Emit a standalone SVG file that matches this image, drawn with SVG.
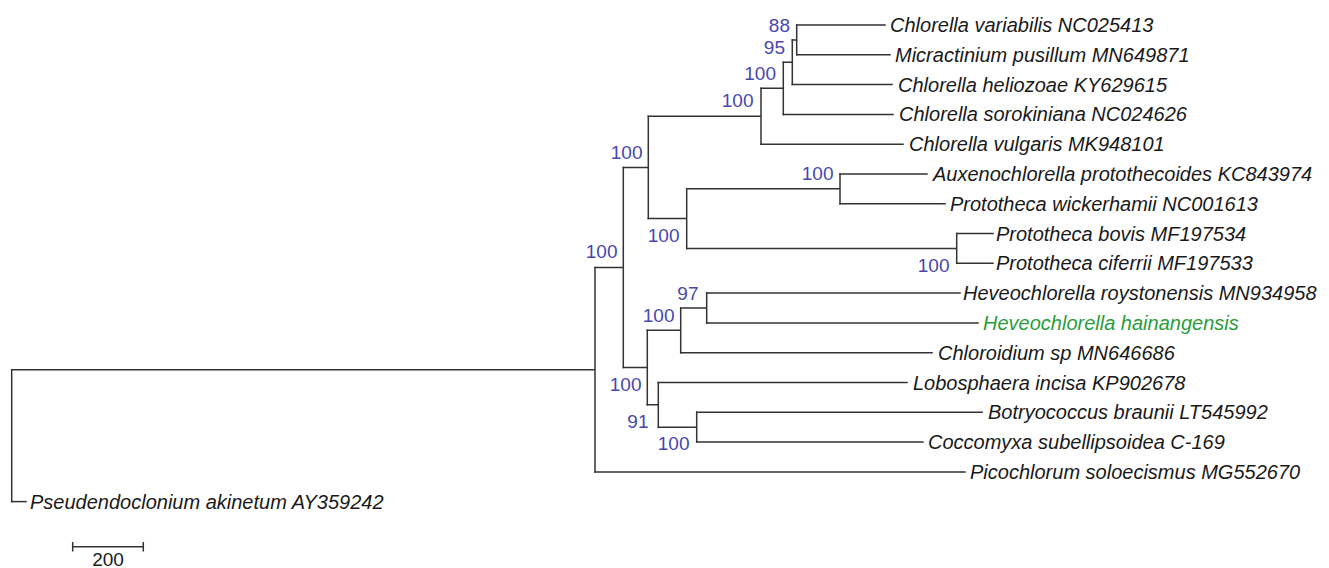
<svg xmlns="http://www.w3.org/2000/svg" width="1329" height="568" viewBox="0 0 1329 568">
<style>
.br{fill:none;stroke:#333;stroke-width:1.5;stroke-linecap:square}
.tx{font-family:"Liberation Sans",Arial,sans-serif;font-size:20px;font-style:italic;fill:#1a1a1a}
.hl{fill:#2a9e3a}
.bs{font-family:"Liberation Sans",Arial,sans-serif;font-size:19px;fill:#4848ae;text-anchor:end}
.sc{font-family:"Liberation Sans",Arial,sans-serif;font-size:19px;fill:#1a1a1a;text-anchor:middle}
</style>
<rect width="1329" height="568" fill="#fff"/>
<g id="connectors" class="br">
<path d="M796.7 25H885M796.7 54.8H890"/>
<path d="M792.3 84.6H892"/>
<path d="M783.3 114.4H893"/>
<path d="M761 144.2H903"/>
<path d="M840 174H927M840 203.7H945"/>
<path d="M956.7 233.5H993M956.7 263.3H993"/>
<path d="M706.7 293.1H960M706.7 322.9H978"/>
<path d="M680.7 352.7H932"/>
<path d="M658.3 382.5H907"/>
<path d="M696.7 412.3H982M696.7 442.1H923"/>
<path d="M595 471.9H965"/>
<path d="M11.7 501.6H26"/>
<path d="M796.7 25V54.8M792.3 39.9H796.7"/>
<path d="M792.3 39.9V84.6M783.3 62.25H792.3"/>
<path d="M783.3 62.25V114.4M761 88.3H783.3"/>
<path d="M761 88.3V144.2M648.3 116.25H761"/>
<path d="M840 174V203.7M686.7 188.85H840"/>
<path d="M956.7 233.5V263.3M686.7 248.4H956.7"/>
<path d="M686.7 188.85V248.4M648.3 218.6H686.7"/>
<path d="M648.3 116.25V218.6M623.3 167.4H648.3"/>
<path d="M706.7 293.1V322.9M680.7 308H706.7"/>
<path d="M680.7 308V352.7M647.3 330.35H680.7"/>
<path d="M696.7 412.3V442.1M658.3 427.2H696.7"/>
<path d="M658.3 382.5V427.2M647.3 404.85H658.3"/>
<path d="M647.3 330.35V404.85M623.3 367.6H647.3"/>
<path d="M623.3 167.4V367.6M595 267.5H623.3"/>
<path d="M595 267.5V471.9M11.7 369.7H595"/>
<path d="M11.7 369.7V501.6"/>
</g>
<g id="leaf-chlorella-variabilis"><text class="tx" x="890" y="32">Chlorella variabilis NC025413</text></g>
<g id="leaf-micractinium"><text class="tx" x="895" y="61.8">Micractinium pusillum MN649871</text></g>
<g id="leaf-chlorella-heliozoae"><text class="tx" x="898" y="91.6">Chlorella heliozoae KY629615</text></g>
<g id="leaf-chlorella-sorokiniana"><text class="tx" x="899" y="121.4">Chlorella sorokiniana NC024626</text></g>
<g id="leaf-chlorella-vulgaris"><text class="tx" x="909" y="151.2">Chlorella vulgaris MK948101</text></g>
<g id="leaf-auxenochlorella"><text class="tx" x="933" y="181">Auxenochlorella protothecoides KC843974</text></g>
<g id="leaf-prototheca-wickerhamii"><text class="tx" x="950" y="210.7">Prototheca wickerhamii NC001613</text></g>
<g id="leaf-prototheca-bovis"><text class="tx" x="996" y="240.5">Prototheca bovis MF197534</text></g>
<g id="leaf-prototheca-ciferrii"><text class="tx" x="996" y="270.3">Prototheca ciferrii MF197533</text></g>
<g id="leaf-heveochlorella-roystonensis"><text class="tx" x="963" y="300.1">Heveochlorella roystonensis MN934958</text></g>
<g id="leaf-heveochlorella-hainangensis"><text class="tx hl" x="983" y="329.9">Heveochlorella hainangensis</text></g>
<g id="leaf-chloroidium"><text class="tx" x="938" y="359.7">Chloroidium sp MN646686</text></g>
<g id="leaf-lobosphaera"><text class="tx" x="913" y="389.5">Lobosphaera incisa KP902678</text></g>
<g id="leaf-botryococcus"><text class="tx" x="988" y="419.3">Botryococcus braunii LT545992</text></g>
<g id="leaf-coccomyxa"><text class="tx" x="928" y="449.1">Coccomyxa subellipsoidea C-169</text></g>
<g id="leaf-picochlorum"><text class="tx" x="970" y="478.9">Picochlorum soloecismus MG552670</text></g>
<g id="leaf-pseudendoclonium"><text class="tx" x="30" y="508.6">Pseudendoclonium akinetum AY359242</text></g>
<g id="node-88"><text class="bs" x="790" y="31.7">88</text></g>
<g id="node-95"><text class="bs" x="785" y="54">95</text></g>
<g id="node-100-a"><text class="bs" x="776" y="80">100</text></g>
<g id="node-100-b"><text class="bs" x="753.5" y="107">100</text></g>
<g id="node-100-c"><text class="bs" x="642.5" y="159">100</text></g>
<g id="node-100-d"><text class="bs" x="833.5" y="180">100</text></g>
<g id="node-100-e"><text class="bs" x="679.5" y="242">100</text></g>
<g id="node-100-f"><text class="bs" x="949.5" y="272">100</text></g>
<g id="node-100-g"><text class="bs" x="617.5" y="258">100</text></g>
<g id="node-97"><text class="bs" x="698.5" y="300">97</text></g>
<g id="node-100-h"><text class="bs" x="674.5" y="322">100</text></g>
<g id="node-100-i"><text class="bs" x="641.5" y="391">100</text></g>
<g id="node-91"><text class="bs" x="648.5" y="428">91</text></g>
<g id="node-100-j"><text class="bs" x="689.5" y="450">100</text></g>
<g id="scale-bar">
<path class="br" d="M72.7 546.7H143.3M72.7 542.7V550.7M143.3 542.7V550.7"/>
<text class="sc" x="108" y="566">200</text>
</g>
</svg>
